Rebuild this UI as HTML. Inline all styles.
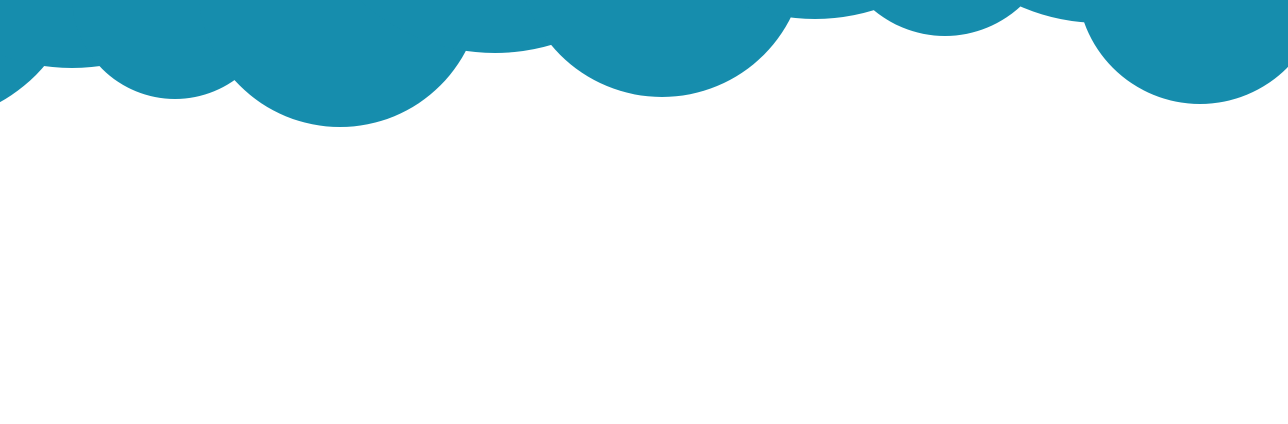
<!DOCTYPE html>
<html><head><meta charset="utf-8"><style>
html,body{margin:0;padding:0;background:#fff;width:1288px;height:424px;overflow:hidden}
svg{display:block}
</style></head><body>
<svg width="1288" height="424" viewBox="0 0 1288 424" xmlns="http://www.w3.org/2000/svg">
<g fill="#168dad">
<rect x="0" y="0" width="1288" height="3"/>
<circle cx="-80" cy="-41" r="164"/>
<circle cx="72" cy="-132" r="200"/>
<circle cx="175" cy="-4" r="103"/>
<circle cx="340" cy="-15" r="142"/>
<circle cx="495" cy="-147" r="200"/>
<circle cx="662" cy="-47" r="144"/>
<circle cx="815" cy="-181" r="200"/>
<circle cx="945" cy="-75" r="111"/>
<circle cx="1100" cy="-177" r="200"/>
<circle cx="1200" cy="-19" r="123"/>
</g>
</svg>
</body></html>
